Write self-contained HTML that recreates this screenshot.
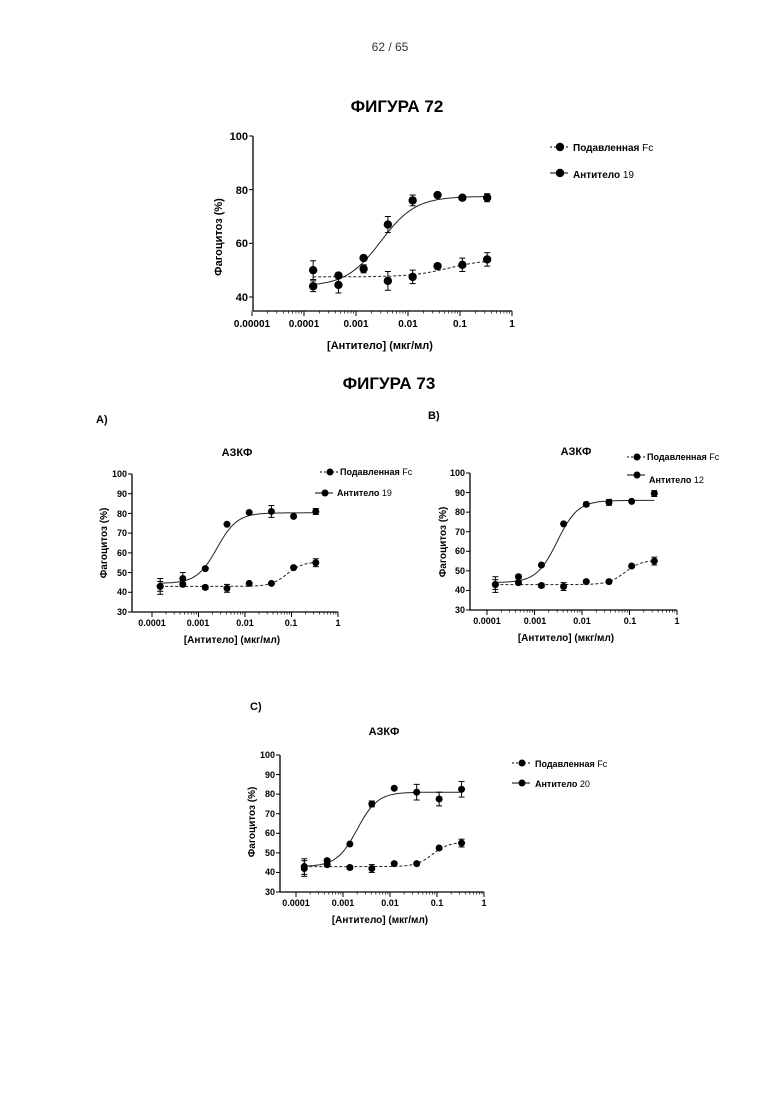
<!DOCTYPE html>
<html><head><meta charset="utf-8"><style>
body{margin:0;background:#fff;}
svg{display:block;font-family:"Liberation Sans",Arial,sans-serif;}
.t{font-weight:bold;}
</style></head><body>
<svg id="s" width="780" height="1103" xmlns="http://www.w3.org/2000/svg">
<text x="390" y="51" font-size="12" text-anchor="middle" fill="#333">62 / 65</text>
<text x="397" y="112" font-size="17" class="t" text-anchor="middle">ФИГУРА 72</text>
<text x="389" y="389" font-size="17" class="t" text-anchor="middle">ФИГУРА 73</text>
<text x="96" y="423" font-size="11" class="t">A)</text>
<text x="428" y="419" font-size="11" class="t">B)</text>
<text x="250" y="710" font-size="11" class="t">C)</text>
<g font-size="11" class="t" text-anchor="end">
<text x="248" y="140">100</text><text x="248" y="194">80</text><text x="248" y="247">60</text><text x="248" y="301">40</text>
</g>
<g font-size="10" class="t" text-anchor="middle">
<text x="252" y="327">0.00001</text><text x="304" y="327">0.0001</text><text x="356" y="327">0.001</text><text x="408" y="327">0.01</text><text x="460" y="327">0.1</text><text x="512" y="327">1</text>
</g>
<text x="380" y="349" font-size="11" class="t" text-anchor="middle">[Антитело] (мкг/мл)</text>
<text transform="translate(222,237) rotate(-90)" font-size="11" class="t" text-anchor="middle">Фагоцитоз (%)</text>
<text x="573" y="151" font-size="10" class="t">Подавленная <tspan font-weight="normal">Fc</tspan></text>
<text x="573" y="178" font-size="10" class="t">Антитело <tspan font-weight="normal">19</tspan></text>
<!-- A -->
<text x="237" y="456" font-size="11" class="t" text-anchor="middle">АЗКФ</text>
<g font-size="9" class="t" text-anchor="middle">
<text x="152" y="626">0.0001</text><text x="198" y="626">0.001</text><text x="245" y="626">0.01</text><text x="291" y="626">0.1</text><text x="338" y="626">1</text>
</g>
<text x="232" y="643" font-size="10" class="t" text-anchor="middle">[Антитело] (мкг/мл)</text>
<text transform="translate(107,543) rotate(-90)" font-size="10" class="t" text-anchor="middle">Фагоцитоз (%)</text>
<text x="340" y="475" font-size="9" class="t">Подавленная <tspan font-weight="normal">Fc</tspan></text>
<text x="337" y="496" font-size="9" class="t">Антитело <tspan font-weight="normal">19</tspan></text>
<!-- B -->
<text x="576" y="455" font-size="11" class="t" text-anchor="middle">АЗКФ</text>
<g font-size="9" class="t" text-anchor="middle">
<text x="487" y="624">0.0001</text><text x="535" y="624">0.001</text><text x="582" y="624">0.01</text><text x="630" y="624">0.1</text><text x="677" y="624">1</text>
</g>
<text x="566" y="641" font-size="10" class="t" text-anchor="middle">[Антитело] (мкг/мл)</text>
<text transform="translate(446,542) rotate(-90)" font-size="10" class="t" text-anchor="middle">Фагоцитоз (%)</text>
<text x="647" y="460" font-size="9" class="t">Подавленная <tspan font-weight="normal">Fc</tspan></text>
<text x="649" y="483" font-size="9" class="t">Антитело <tspan font-weight="normal">12</tspan></text>
<!-- C -->
<text x="384" y="735" font-size="11" class="t" text-anchor="middle">АЗКФ</text>
<g font-size="9" class="t" text-anchor="middle">
<text x="296" y="906">0.0001</text><text x="343" y="906">0.001</text><text x="390" y="906">0.01</text><text x="437" y="906">0.1</text><text x="484" y="906">1</text>
</g>
<text x="380" y="923" font-size="10" class="t" text-anchor="middle">[Антитело] (мкг/мл)</text>
<text transform="translate(255,822) rotate(-90)" font-size="10" class="t" text-anchor="middle">Фагоцитоз (%)</text>
<text x="535" y="767" font-size="9" class="t">Подавленная <tspan font-weight="normal">Fc</tspan></text>
<text x="535" y="787" font-size="9" class="t">Антитело <tspan font-weight="normal">20</tspan></text>
<g font-size="9" class="t" text-anchor="end">
<text x="127" y="477">100</text><text x="127" y="497">90</text><text x="127" y="517">80</text><text x="127" y="536">70</text><text x="127" y="556">60</text><text x="127" y="576">50</text><text x="127" y="595">40</text><text x="127" y="615">30</text>
<text x="465" y="476">100</text><text x="465" y="496">90</text><text x="465" y="515">80</text><text x="465" y="535">70</text><text x="465" y="554">60</text><text x="465" y="574">50</text><text x="465" y="593">40</text><text x="465" y="613">30</text>
<text x="275" y="758">100</text><text x="275" y="778">90</text><text x="275" y="797">80</text><text x="275" y="817">70</text><text x="275" y="836">60</text><text x="275" y="856">50</text><text x="275" y="875">40</text><text x="275" y="895">30</text>
</g>
<g id="g"></g>
</svg>
<script>
var NS="http://www.w3.org/2000/svg",G=document.getElementById("g");
function el(n,a){var e=document.createElementNS(NS,n);for(var k in a)e.setAttribute(k,a[k]);G.appendChild(e);return e;}
var XS=[0.00015,0.00046,0.0014,0.0041,0.0123,0.037,0.111,0.333];
function chart(c){
 var X=function(v){return c.x0+(Math.log10(v)-c.l0)*c.dec;};
 var Y=function(v){return c.yb-(v-c.vmin)/(c.vmax-c.vmin)*(c.yb-c.yt);};
 el("line",{x1:c.ax,y1:c.yt,x2:c.ax,y2:c.xa,stroke:"#000","stroke-width":1.3});
 el("line",{x1:c.ax,y1:c.xa,x2:c.xe,y2:c.xa,stroke:"#000","stroke-width":1.3});
 for(var v=c.vmin;v<=c.vmax;v+=c.step)el("line",{x1:c.ax-4,y1:Y(v),x2:c.ax,y2:Y(v),stroke:"#000"});
 for(var d=c.l0;d<=0;d++){el("line",{x1:X(Math.pow(10,d)),y1:c.xa,x2:X(Math.pow(10,d)),y2:c.xa+5,stroke:"#000"});
  if(d<0)for(var m=2;m<10;m++){var xx=X(m*Math.pow(10,d));el("line",{x1:xx,y1:c.xa,x2:xx,y2:c.xa+2.5,stroke:"#000","stroke-width":0.7});}}
 c.s.forEach(function(s){
  var p="";for(var i=0;i<=100;i++){var lv=Math.log10(XS[0])+i/100*(Math.log10(XS[7])-Math.log10(XS[0]));var x=Math.pow(10,lv);
   var y=s.b+(s.t-s.b)/(1+Math.pow(s.e/x,s.h));p+=(i?"L":"M")+X(x).toFixed(1)+" "+Y(y).toFixed(1);}
  el("path",{d:p,fill:"none",stroke:"#222","stroke-width":1,"stroke-dasharray":s.dash?"3,2":"none"});
  s.d.forEach(function(v,i){var x=X(XS[i]),y=Y(v),er=(s.err&&s.err[i]||1.5)*(c.yb-c.yt)/(c.vmax-c.vmin);
   el("line",{x1:x,y1:y-er,x2:x,y2:y+er,stroke:"#000"});
   el("line",{x1:x-3,y1:y-er,x2:x+3,y2:y-er,stroke:"#000"});el("line",{x1:x-3,y1:y+er,x2:x+3,y2:y+er,stroke:"#000"});
   el("circle",{cx:x,cy:y,r:c.r,fill:"#000"});});
 });
 c.leg.forEach(function(L){el("line",{x1:L[0]-10,y1:L[1],x2:L[0]+8,y2:L[1],stroke:"#000","stroke-dasharray":L[2]?"2,2":"none"});el("circle",{cx:L[0],cy:L[1],r:c.r,fill:"#000"});});
}
chart({x0:252,l0:-5,dec:52,yt:136,yb:297,vmin:40,vmax:100,step:20,ax:253,xa:311,xe:512,r:4.2,
 s:[{d:[44,44.5,54.5,67,76,78,77,77],b:44,t:77.5,e:0.003,h:1.3,err:[2,3,1,3,2,0.5,0.5,1.5]},
    {d:[50,48,50.5,46,47.5,51.5,52,54],b:47.5,t:54,e:0.06,h:1.2,dash:1,err:[3.5,1,1.5,3.5,2.5,0.5,2.5,2.5]}],
 leg:[[560,147,1],[560,173,0]]});
var base=function(o){return Object.assign({l0:-4,vmin:30,vmax:100,step:10,r:3.5},o);};
var fcD=[43,44,42.5,42,44.5,44.5,52.5,55],fcE=[4,1,1,2,0.5,0.5,0.5,2];
chart(base({x0:152,dec:46.5,yt:474,yb:612,ax:132,xa:612,xe:338,
 s:[{d:[43,47,52,74.5,80.5,81,78.5,81],b:44.5,t:80.3,e:0.0025,h:2,err:[2.5,3,0.5,0.5,0.5,3,0.5,1.5]},
    {d:fcD,b:43,t:55.5,e:0.08,h:2.5,dash:1,err:fcE}],leg:[[330,472,1],[325,493,0]]}));
chart(base({x0:487,dec:47.5,yt:473,yb:610,ax:470,xa:610,xe:677,
 s:[{d:[43,47,53,74,84,85,85.5,89.5],b:44,t:86,e:0.003,h:2,err:[2.5,1,0.5,0.5,1,1.5,0.5,1.5]},
    {d:fcD,b:43,t:55.5,e:0.08,h:2.5,dash:1,err:fcE}],leg:[[637,457,1],[637,475,0]]}));
chart(base({x0:296,dec:47,yt:755,yb:892,ax:280,xa:892,xe:484,
 s:[{d:[42,46,54.5,75,83,81,77.5,82.5],b:43,t:81,e:0.002,h:2,err:[4,1,0.5,1.5,0.5,4,3.5,4]},
    {d:fcD,b:43,t:55.5,e:0.08,h:2.5,dash:1,err:fcE}],leg:[[522,763,1],[522,783,0]]}));
</script>
</body></html>
